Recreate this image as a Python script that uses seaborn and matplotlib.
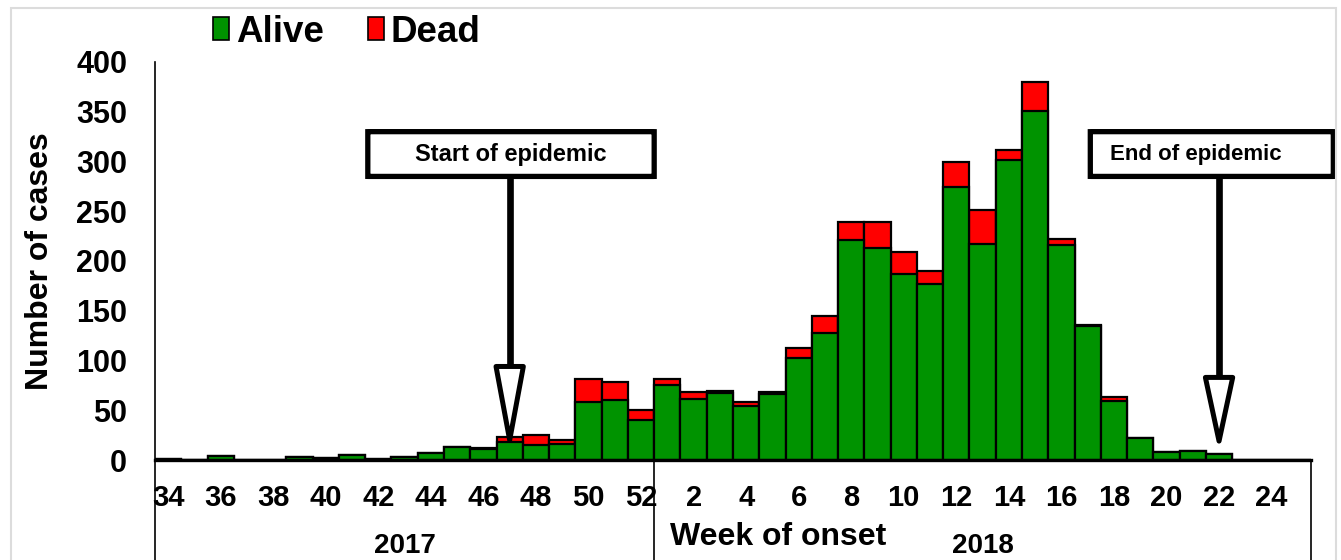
import matplotlib
matplotlib.use("Agg")
import matplotlib.pyplot as plt
import seaborn as sns
import pandas as pd
from matplotlib.patches import Patch, Polygon, Rectangle, FancyBboxPatch

# week of onset, 2017 wk 34 -> 2018 wk 25
weeks_2017 = list(range(34, 53))
weeks_2018 = list(range(1, 26))
alive_2017 = [1, 0, 4, 0, 0, 3, 2, 5, 1, 3, 7, 13, 11, 18, 15, 16, 58, 60, 40]
dead_2017 = [0, 0, 0, 0, 0, 0, 0, 0, 0, 0, 0, 0, 1, 5, 10, 4, 23, 18, 10]
alive_2018 = [75, 61, 67, 54, 66, 103, 128, 221, 213, 187, 177, 274, 217, 302, 351,
              216, 135, 59, 22, 8, 9, 6, 0, 0, 0]
dead_2018 = [6, 7, 2, 4, 2, 10, 17, 18, 26, 22, 13, 25, 34, 10, 29,
             6, 1, 4, 0, 0, 0, 0, 0, 0, 0]
year_labels = ["2017", "2018"]

df = pd.DataFrame({
    "week": [f"2017-{w}" for w in weeks_2017] + [f"2018-{w}" for w in weeks_2018],
    "label": weeks_2017 + weeks_2018,
    "Alive": alive_2017 + alive_2018,
    "Dead": dead_2017 + dead_2018,
})
df["Total"] = df["Alive"] + df["Dead"]

GREEN = "#009300"
RED = "#ff0000"

sns.set_style("white")
plt.rcParams["font.family"] = ["Liberation Sans", "DejaVu Sans"]
plt.rcParams["font.weight"] = "bold"
for k in ["text.color", "axes.labelcolor", "xtick.color", "ytick.color"]:
    plt.rcParams[k] = "black"

fig = plt.figure(figsize=(13.41, 5.6), dpi=100)
ax = fig.add_axes([155 / 1341, 100 / 560, 1156 / 1341, 398 / 560])

# stacked bars: total (red) then alive (green) on top
sns.barplot(data=df, x="week", y="Total", order=df["week"], color=RED, saturation=1,
            width=1.0, edgecolor="black", linewidth=1.6, ax=ax)
sns.barplot(data=df, x="week", y="Alive", order=df["week"], color=GREEN, saturation=1,
            width=1.0, edgecolor="black", linewidth=1.6, ax=ax)

n = len(df)
ax.set_xlim(-0.5, n - 0.5)
ax.set_ylim(0, 400)
ax.set_yticks(range(0, 401, 50))
ax.tick_params(axis="y", direction="in", length=6, width=1.2, pad=20, labelsize=22)
tick_pos = [i for i, w in enumerate(df["label"]) if w % 2 == 0]
ax.set_xticks(tick_pos)
ax.set_xticklabels([str(df["label"][i]) for i in tick_pos], fontsize=21, fontweight="bold")
ax.tick_params(axis="x", length=0, pad=17)
for lab in ax.get_yticklabels():
    lab.set_fontweight("bold")
ax.set_xlabel("")
ax.set_ylabel("")
for s in ["top", "right"]:
    ax.spines[s].set_visible(False)
ax.spines["left"].set_linewidth(1.2)
ax.spines["left"].set_color("black")
ax.spines["bottom"].set_linewidth(2.4)
ax.spines["bottom"].set_color("black")

# table-like frame under the axis
split = len(weeks_2017) - 0.5
for xv in [-0.5, split, n - 0.5]:
    ax.plot([xv, xv], [0, -130], color="black", lw=1.2, clip_on=False)
ax.text((-0.5 + split) / 2, -86, year_labels[0], ha="center", va="center",
        fontsize=20, fontweight="bold", clip_on=False)
ax.text((split + n - 0.5) / 2, -86, year_labels[1], ha="center", va="center",
        fontsize=20, fontweight="bold", clip_on=False)
ax.text(23.2, -77, "Week of onset", ha="center", va="center",
        fontsize=23, fontweight="bold", clip_on=False)

fig.text(40 / 1341, 1 - 261 / 560, "Number of cases", rotation=90, ha="center",
         va="center", fontsize=23, fontweight="bold")

# epidemic start / end annotations
def callout(text, x0, x1, xt, xa, head_top, head_tip, fs):
    box = FancyBboxPatch((x0, 285), x1 - x0, 45, boxstyle="round,pad=0,rounding_size=0.15",
                         fc="white", ec="black", lw=3.8, clip_on=False, zorder=5,
                         mutation_aspect=1 / 4)
    ax.add_patch(box)
    ax.text(xt, 307.5, text, ha="center", va="center", fontsize=fs,
            fontweight="bold", zorder=6, clip_on=False)
    ax.plot([xa, xa], [285, head_top], color="black", lw=4.8, zorder=5,
            solid_capstyle="butt")
    tri = Polygon([(xa - 0.52, head_top), (xa + 0.52, head_top), (xa, head_tip)],
                  closed=True, fc="white", ec="black", lw=3.6, zorder=6,
                  joinstyle="round")
    ax.add_patch(tri)

callout("Start of epidemic", 7.6, 18.5, 13.05, 13, 94, 20, 17)
callout("End of epidemic", 35.1, 44.35, 39.1, 40, 83, 19, 16)

handles = [Patch(fc=GREEN, ec="black", lw=1.2, label="Alive"),
           Patch(fc=RED, ec="black", lw=1.2, label="Dead")]
fig.legend(handles=handles, loc="center", bbox_to_anchor=(347 / 1341, 1 - 32 / 560),
           ncol=2, frameon=False, prop={"size": 26.5, "weight": "bold"},
           handlelength=0.44, handleheight=0.56, handletextpad=0.18,
           columnspacing=1.2, borderpad=0)

# faint outer frame
fig.patches.append(Rectangle((11 / 1341, -0.1), 1325 / 1341, 1.1 - 8 / 560,
                             transform=fig.transFigure, fill=False,
                             ec="#dcdcdc", lw=1.5))

fig.savefig("out.png", dpi=100)
